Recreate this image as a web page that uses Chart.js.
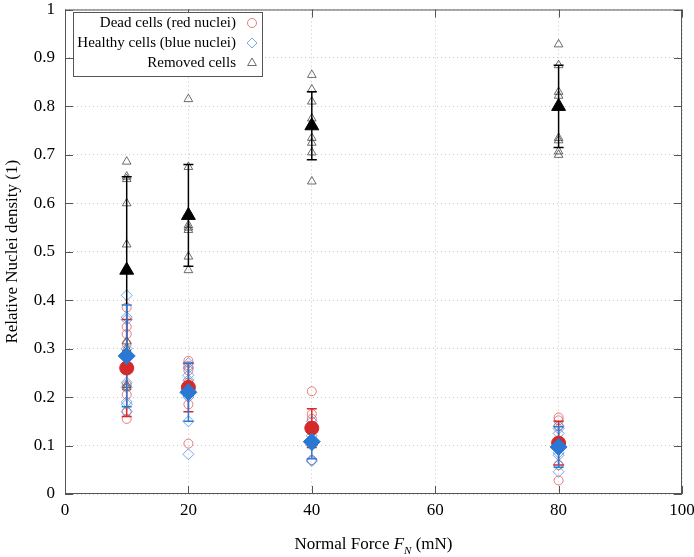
<!DOCTYPE html>
<html><head><meta charset="utf-8">
<script src="https://cdn.jsdelivr.net/npm/chart.js@4"></script>
<style>html,body{margin:0;padding:0;background:#fff}#wrap{width:694px;height:557px}</style>
</head><body><div id="wrap"><canvas id="c" width="694" height="557"></canvas></div>
<script>
const forces = [10, 20, 40, 80];
const deadSamples = [
  [0.385, 0.345, 0.33, 0.31, 0.225, 0.205, 0.17, 0.155],
  [0.275, 0.265, 0.255, 0.23, 0.225, 0.185, 0.104],
  [0.212, 0.165, 0.155, 0.14, 0.13, 0.07],
  [0.158, 0.152, 0.14, 0.1, 0.06, 0.028]
];
const healthySamples = [
  [0.41, 0.365, 0.36, 0.3, 0.23, 0.22, 0.19, 0.185, 0.17],
  [0.27, 0.26, 0.245, 0.235, 0.22, 0.2, 0.15, 0.082],
  [0.15, 0.14, 0.12, 0.1, 0.07, 0.068],
  [0.14, 0.135, 0.125, 0.085, 0.08, 0.06, 0.046]
];
const removedSamples = [
  [0.686, 0.655, 0.65, 0.6, 0.515, 0.315, 0.3, 0.225, 0.22],
  [0.815, 0.675, 0.555, 0.55, 0.545, 0.49, 0.462],
  [0.865, 0.835, 0.81, 0.775, 0.735, 0.725, 0.705, 0.645],
  [0.928, 0.885, 0.83, 0.822, 0.735, 0.73, 0.707, 0.7]
];
const deadMean = [0.26, 0.22, 0.136, 0.105];
const deadErr = [0.1, 0.05, 0.04, 0.045];
const healthyMean = [0.285, 0.21, 0.108, 0.097];
const healthyErr = [0.105, 0.06, 0.035, 0.042];
const removedMean = [0.462, 0.575, 0.76, 0.8];
const removedErr = [0.193, 0.105, 0.07, 0.085];
const xTickValues = [0, 20, 40, 60, 80, 100];
const yTickLabels = ['0', '0.1', '0.2', '0.3', '0.4', '0.5', '0.6', '0.7', '0.8', '0.9', '1'];
const legendLabels = ['Dead cells (red nuclei)', 'Healthy cells (blue nuclei)', 'Removed cells'];
const yTitle = 'Relative Nuclei density (1)';

const SERIF = '"Liberation Serif", "DejaVu Serif", serif';
const RED_L = 'rgba(225,80,80,0.75)', BLUE_L = 'rgba(70,140,225,0.75)', GRAY_L = 'rgba(60,60,60,0.75)';
const RED = '#d42a2a', BLUE = '#2a78d4', BLACK = '#000';

function samplesPts(s) { const out = []; s.forEach((arr, i) => arr.forEach(v => out.push({x: forces[i], y: v}))); return out; }
function meanPts(m) { return m.map((v, i) => ({x: forces[i], y: v})); }
function errPts(m, e) { const out = []; m.forEach((v, i) => { out.push({x: forces[i], y: v - e[i]}, {x: forces[i], y: v + e[i]}, {x: forces[i], y: null}); }); return out; }

const frame = {
  id: 'frame',
  afterDatasetsDraw(chart) {
    const {ctx, chartArea: a, scales: {x, y}} = chart;
    ctx.save();
    ctx.strokeStyle = '#555'; ctx.lineWidth = 1;
    ctx.strokeRect(a.left + 0.5, a.top + 0.5, a.right - a.left - 1, a.bottom - a.top - 1);
    ctx.beginPath();
    const L = 8;
    xTickValues.forEach(v => { const px = Math.round(x.getPixelForValue(v)) + 0.5;
      ctx.moveTo(px, a.bottom); ctx.lineTo(px, a.bottom - L); ctx.moveTo(px, a.top); ctx.lineTo(px, a.top + L); });
    yTickLabels.forEach((t, i) => { const py = Math.round(y.getPixelForValue(i / 10)) + 0.5;
      ctx.moveTo(a.left, py); ctx.lineTo(a.left + L, py); ctx.moveTo(a.right, py); ctx.lineTo(a.right - L, py); });
    ctx.stroke();
    // legend
    const bx = 73, by = 12, bw = 189, bh = 64;
    ctx.fillStyle = '#fff'; ctx.fillRect(bx, by, bw, bh);
    ctx.strokeStyle = '#555'; ctx.strokeRect(bx + 0.5, by + 0.5, bw, bh);
    ctx.font = '15px ' + SERIF; ctx.textAlign = 'right'; ctx.textBaseline = 'middle'; ctx.fillStyle = '#000';
    const rows = [by + 11, by + 31, by + 51];
    const styles = [['circle', RED_L, 4.5], ['rectRot', BLUE_L, 5], ['triangle', GRAY_L, 5]];
    rows.forEach((ry, i) => {
      ctx.fillText(legendLabels[i], bx + 163, ry);
      ctx.strokeStyle = styles[i][1]; ctx.lineWidth = 1; ctx.fillStyle = 'rgba(0,0,0,0)';
      Chart.helpers.drawPoint(ctx, {pointStyle: styles[i][0], radius: styles[i][2], borderWidth: 1, rotation: 0}, bx + 179, ry);
      ctx.fillStyle = '#000';
    });
    // x title
    const parts = [['Normal Force ', '17px ' + SERIF, 0], ['F', 'italic 17px ' + SERIF, 0], ['N', 'italic 11px ' + SERIF, 5], [' (mN)', '17px ' + SERIF, 0]];
    let w = 0; parts.forEach(p => { ctx.font = p[1]; w += ctx.measureText(p[0]).width; });
    let cx = (a.left + a.right) / 2 - w / 2; const ty = 543;
    ctx.textAlign = 'left'; ctx.textBaseline = 'alphabetic';
    parts.forEach(p => { ctx.font = p[1]; ctx.fillText(p[0], cx, ty + 6 + p[2]); cx += ctx.measureText(p[0]).width; });
    ctx.restore();
  }
};

function noPad(s) { s.paddingLeft = 0; s.paddingRight = 0; s.paddingTop = 0; s.paddingBottom = 0; }

new Chart(document.getElementById('c'), {
  type: 'scatter',
  data: {
    datasets: [
      {label: 'dead', data: samplesPts(deadSamples), pointStyle: 'circle', pointRadius: 4.5, borderColor: RED_L, backgroundColor: 'rgba(0,0,0,0)', pointBorderWidth: 1, order: 9},
      {label: 'healthy', data: samplesPts(healthySamples), pointStyle: 'rectRot', pointRadius: 5.5, borderColor: BLUE_L, backgroundColor: 'rgba(0,0,0,0)', pointBorderWidth: 1, order: 8},
      {label: 'removed', data: samplesPts(removedSamples), pointStyle: 'triangle', pointRadius: 5, borderColor: GRAY_L, backgroundColor: 'rgba(0,0,0,0)', pointBorderWidth: 1, order: 7},
      {type: 'line', label: 'removedErr', data: errPts(removedMean, removedErr), showLine: true, spanGaps: false, borderColor: BLACK, borderWidth: 1.5, pointStyle: 'line', pointRadius: 5, pointBorderColor: BLACK, pointBorderWidth: 1.5, order: 6},
      {type: 'line', label: 'deadErr', data: errPts(deadMean, deadErr), showLine: true, spanGaps: false, borderColor: RED, borderWidth: 1.5, pointStyle: 'line', pointRadius: 5, pointBorderColor: RED, pointBorderWidth: 1.5, order: 5},
      {type: 'line', label: 'healthyErr', data: errPts(healthyMean, healthyErr), showLine: true, spanGaps: false, borderColor: BLUE, borderWidth: 1.5, pointStyle: 'line', pointRadius: 5, pointBorderColor: BLUE, pointBorderWidth: 1.5, order: 4},
      {label: 'removedMean', data: meanPts(removedMean), pointStyle: 'triangle', pointRadius: 8, borderColor: BLACK, backgroundColor: BLACK, order: 3},
      {label: 'deadMean', data: meanPts(deadMean), pointStyle: 'circle', pointRadius: 7, borderColor: RED, backgroundColor: RED, order: 2},
      {label: 'healthyMean', data: meanPts(healthyMean), pointStyle: 'rectRot', pointRadius: 8.5, borderColor: BLUE, backgroundColor: BLUE, order: 1}
    ]
  },
  options: {
    responsive: false, animation: false, devicePixelRatio: 1,
    layout: {padding: {top: 8, right: 12, left: 0, bottom: 0}},
    plugins: {legend: {display: false}, tooltip: {enabled: false}},
    scales: {
      x: {type: 'linear', min: 0, max: 100,
        afterFit(s) { s.height = 63; noPad(s); },
        afterBuildTicks(s) { s.ticks = xTickValues.map(v => ({value: v})); },
        ticks: {color: '#000', font: {family: SERIF, size: 17, lineHeight: 1}, padding: 8, maxRotation: 0},
        grid: {color: '#c8c8c8', drawTicks: false, lineWidth: 1},
        border: {display: false, dash: [1, 3]}
      },
      y: {type: 'linear', min: 0, max: 1,
        afterFit(s) { s.width = 65; noPad(s); },
        afterBuildTicks(s) { s.ticks = yTickLabels.map((t, i) => ({value: i / 10})); },
        ticks: {color: '#000', font: {family: SERIF, size: 17, lineHeight: 1}, padding: 10, callback: (v, i) => yTickLabels[i]},
        grid: {color: '#c8c8c8', drawTicks: false, lineWidth: 1},
        border: {display: false, dash: [1, 3]},
        title: {display: true, text: yTitle, color: '#000', font: {family: SERIF, size: 17}, padding: {top: 2, bottom: 0}}
      }
    }
  },
  plugins: [frame]
});
</script></body></html>
